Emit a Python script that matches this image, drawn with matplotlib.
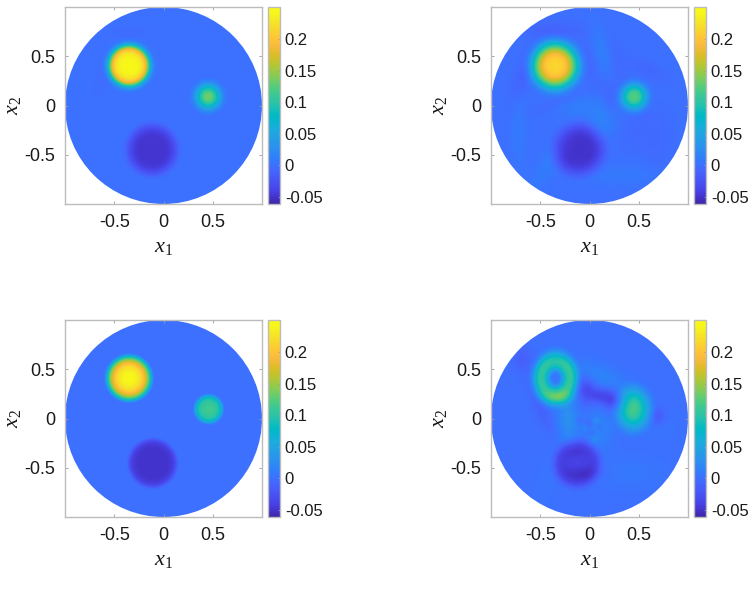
#Four reconstructions of a disc-shaped field, each with its own colorbar
import matplotlib
matplotlib.use('Agg')
import matplotlib.pyplot as plt
from matplotlib.colors import LinearSegmentedColormap
from matplotlib.patches import Circle
import numpy as np

plt.rcParams['font.family'] = ['Liberation Sans', 'DejaVu Sans']
plt.rcParams['mathtext.fontset'] = 'custom'
plt.rcParams['mathtext.it'] = 'Liberation Serif:italic'
plt.rcParams['mathtext.rm'] = 'Liberation Serif'

PARULA = [
    (0.2422, 0.1504, 0.6603), (0.2647, 0.1978, 0.7952), (0.2783, 0.2559, 0.8991),
    (0.2813, 0.3006, 0.9414), (0.2795, 0.3447, 0.9717), (0.2699, 0.3892, 0.9906),
    (0.2440, 0.4358, 0.9988), (0.1963, 0.4847, 0.9892), (0.1786, 0.5289, 0.9682),
    (0.1687, 0.5703, 0.9359), (0.1460, 0.6091, 0.9079), (0.1248, 0.6459, 0.8883),
    (0.0952, 0.6798, 0.8598), (0.0297, 0.7082, 0.8163), (0.0067, 0.7312, 0.7660),
    (0.0964, 0.7500, 0.7120), (0.1717, 0.7670, 0.6554), (0.2161, 0.7843, 0.5923),
    (0.2906, 0.7973, 0.5188), (0.3909, 0.8029, 0.4354), (0.5044, 0.7993, 0.3480),
    (0.6174, 0.7876, 0.2612), (0.7242, 0.7698, 0.1910), (0.8203, 0.7498, 0.1535),
    (0.9035, 0.7330, 0.1774), (0.9728, 0.7298, 0.2394), (0.9970, 0.7659, 0.2199),
    (0.9892, 0.8136, 0.1885), (0.9676, 0.8639, 0.1643), (0.9597, 0.9135, 0.1423),
    (0.9691, 0.9606, 0.1064), (0.9769, 0.9839, 0.0805),
]

VMIN = -0.061
VMAX = 0.251
X_TICKS = [-0.5, 0, 0.5]
Y_TICKS = [-0.5, 0, 0.5]
X_TICK_LABELS = ['-0.5', '0', '0.5']
Y_TICK_LABELS = ['-0.5', '0', '0.5']
CBAR_TICKS = [-0.05, 0, 0.05, 0.1, 0.15, 0.2]
CBAR_LABELS = ['-0.05', '0', '0.05', '0.1', '0.15', '0.2']

# radial profiles: (cx, cy, y stretch, radii, values)
DISCS_TL = [
    (-0.35, 0.405, 1.0, [0, 0.08, 0.13, 0.17, 0.20, 0.23, 0.26, 0.29], [0.245, 0.24, 0.225, 0.185, 0.11, 0.04, 0.008, 0.0]),
    (0.455, 0.09, 1.0, [0, 0.04, 0.08, 0.12, 0.16, 0.2], [0.135, 0.125, 0.09, 0.05, 0.015, 0.0]),
    (-0.115, -0.45, 1.0, [0, 0.14, 0.19, 0.24, 0.28, 0.32], [-0.05, -0.05, -0.044, -0.025, -0.006, 0.0]),
]
DISCS_TR = [
    (-0.35, 0.405, 1.0, [0, 0.07, 0.12, 0.17, 0.21, 0.25, 0.29, 0.34], [0.215, 0.21, 0.19, 0.145, 0.095, 0.05, 0.016, 0.0]),
    (0.455, 0.09, 1.0, [0, 0.05, 0.09, 0.13, 0.17, 0.21], [0.125, 0.115, 0.08, 0.042, 0.012, 0.0]),
    (-0.11, -0.45, 1.0, [0, 0.14, 0.19, 0.24, 0.3, 0.34], [-0.052, -0.05, -0.043, -0.025, -0.006, 0.0]),
]
DISCS_BL = [
    (-0.35, 0.41, 1.0, [0, 0.06, 0.12, 0.17, 0.2, 0.225, 0.245, 0.26], [0.245, 0.24, 0.22, 0.175, 0.125, 0.07, 0.02, 0.0]),
    (0.46, 0.095, 1.0, [0, 0.06, 0.10, 0.125, 0.145, 0.165], [0.115, 0.11, 0.095, 0.07, 0.03, 0.0]),
    (-0.11, -0.455, 1.0, [0, 0.16, 0.21, 0.24, 0.265], [-0.05, -0.049, -0.042, -0.022, 0.0]),
]
DISCS_BR = [
    (-0.345, 0.41, 1.2, [0, 0.04, 0.07, 0.1, 0.14, 0.17, 0.2, 0.24, 0.28], [0.003, 0.008, 0.04, 0.085, 0.105, 0.1, 0.07, 0.022, 0.0]),
    (0.445, 0.095, 1.25, [0, 0.06, 0.11, 0.15, 0.2, 0.24], [0.11, 0.1, 0.075, 0.045, 0.015, 0.0]),
    (-0.125, -0.46, 1.0, [0, 0.07, 0.14, 0.19, 0.24, 0.29], [-0.04, -0.042, -0.045, -0.04, -0.015, 0.0]),
]

# soft patches: (cx, cy, sx, sy, angle in degrees, amplitude)
PATCHES_TL = [
    (0.0, 0.0, 1.2, 1.2, 0, 0.002),
    (-0.62, 0.28, 0.05, 0.15, -20, -0.004),
    (-0.35, 0.74, 0.15, 0.04, 0, -0.004),
]
PATCHES_TR = [
    (-0.35, 0.77, 0.2, 0.06, 0, -0.011),
    (-0.68, 0.3, 0.06, 0.2, -20, -0.011),
    (-0.35, 0.02, 0.2, 0.05, 20, -0.007),
    (0.0, 0.42, 0.05, 0.2, 10, -0.006),
    (0.13, 0.55, 0.06, 0.2, 15, 0.012),
    (0.28, 0.45, 0.07, 0.18, 15, -0.005),
    (0.6, 0.36, 0.15, 0.06, -25, -0.007),
    (0.15, -0.15, 0.1, 0.12, 0, 0.016),
    (0.2, 0.05, 0.06, 0.16, 0, -0.01),
    (-0.1, 0.0, 0.22, 0.08, 0, 0.01),
    (-0.72, -0.25, 0.06, 0.25, 0, 0.008),
    (-0.4, -0.55, 0.07, 0.28, -30, 0.009),
    (0.35, -0.7, 0.35, 0.08, 0, 0.007),
    (0.5, -0.25, 0.18, 0.16, 0, -0.005),
    (0.7, -0.45, 0.12, 0.3, 0, -0.003),
]
PATCHES_BR = [
    (0.44, 0.1, 0.04, 0.07, -15, 0.012),
    (-0.33, 0.22, 0.12, 0.05, 0, 0.028),
    (-0.33, 0.62, 0.1, 0.04, 0, -0.01),
    (-0.03, 0.28, 0.06, 0.09, 0, -0.032),
    (0.21, 0.2, 0.11, 0.065, -25, -0.04),
    (0.08, 0.23, 0.05, 0.04, 0, -0.016),
    (-0.22, 0.0, 0.07, 0.17, 5, 0.028),
    (0.13, 0.42, 0.22, 0.08, -25, 0.016),
    (0.1, -0.1, 0.1, 0.14, 0, 0.016),
    (0.7, 0.02, 0.05, 0.06, 0, -0.018),
    (-0.5, 0.1, 0.05, 0.18, 25, -0.012),
    (-0.68, 0.6, 0.07, 0.09, 0, -0.014),
    (-0.16, -0.34, 0.08, 0.05, 0, -0.006),
    (-0.06, -0.56, 0.13, 0.05, 0, -0.01),
    (0.0, -0.05, 0.02, 0.03, 0, -0.012),
    (0.07, -0.02, 0.02, 0.02, 0, 0.014),
    (0.1, -0.09, 0.02, 0.03, 0, -0.012),
    (0.03, -0.14, 0.02, 0.02, 0, -0.012),
    (-0.05, -0.1, 0.02, 0.02, 0, 0.01),
    (-0.1, -0.02, 0.02, 0.02, 0, -0.01),
    (0.05, -0.22, 0.03, 0.03, 0, 0.012),
    (-0.42, -0.6, 0.08, 0.3, -20, 0.003),
    (0.4, -0.55, 0.25, 0.12, 0, 0.006),
    (0.68, -0.1, 0.16, 0.1, 0, 0.003),
]

# panel positions in pixels: left, top
PANELS = [
    (65, 7, DISCS_TL, PATCHES_TL, 0.0),
    (491, 7, DISCS_TR, PATCHES_TR, 0.001),
    (65, 320, DISCS_BL, [], 0.0),
    (491, 320, DISCS_BR, PATCHES_BR, 0.001),
]

W = 755
H = 605
AX_SIZE = 197


def build_field(discs, patches, base):
    xs = np.linspace(-1, 1, 500)
    xx, yy = np.meshgrid(xs, xs)
    z = np.full(xx.shape, base, dtype=float)
    for cx, cy, stretch, radii, values in discs:
        r = np.hypot(xx - cx, (yy - cy) / stretch)
        z += np.interp(r, radii, values, right=0.0)
    for cx, cy, sx, sy, ang, amp in patches:
        t = np.deg2rad(ang)
        u = (xx - cx) * np.cos(t) + (yy - cy) * np.sin(t)
        v = -(xx - cx) * np.sin(t) + (yy - cy) * np.cos(t)
        z += amp * np.exp(-0.5 * ((u / sx) ** 2 + (v / sy) ** 2))
    return z


def style_box(ax):
    for spine in ax.spines.values():
        spine.set_color('#bcbcbc')
        spine.set_linewidth(1.0)


cmap = LinearSegmentedColormap.from_list('parula', PARULA, N=256)
fig = plt.figure(figsize=(W / 100, H / 100), dpi=100)

for left, top, discs, patches, base in PANELS:
    rect = [left / W, 1 - (top + AX_SIZE) / H, AX_SIZE / W, AX_SIZE / H]
    ax = fig.add_axes(rect)
    im = ax.imshow(build_field(discs, patches, base), extent=(-1, 1, -1, 1), origin='lower',
                   cmap=cmap, vmin=VMIN, vmax=VMAX, interpolation='bilinear', aspect='auto')
    im.set_clip_path(Circle((0, 0), 1.0, transform=ax.transData))
    ax.set_xlim(-1, 1)
    ax.set_ylim(-1, 1)
    ax.set_xticks(X_TICKS, X_TICK_LABELS)
    ax.set_yticks(Y_TICKS, Y_TICK_LABELS)
    ax.tick_params(direction='in', length=2, width=0.6, color='#9a9a9a', top=True, right=True,
                   labelsize=13, labelcolor='#1a1a1a', pad=7)
    ax.set_xlabel('$x_1$', fontsize=16, color='#1a1a1a', labelpad=4)
    ax.set_ylabel('$x_2$', fontsize=16, color='#1a1a1a', labelpad=1)
    style_box(ax)

    cax = fig.add_axes([(left + AX_SIZE + 6) / W, rect[1], 12 / W, AX_SIZE / H])
    cb = fig.colorbar(im, cax=cax)
    cb.set_ticks(CBAR_TICKS, labels=CBAR_LABELS)
    cax.tick_params(direction='in', length=1.5, width=0.5, color='#9a9a9a', labelsize=12,
                    labelcolor='#1a1a1a', pad=3.5)
    cb.outline.set_edgecolor('#bcbcbc')
    cb.outline.set_linewidth(1.0)

fig.savefig('out.png', dpi=100)
